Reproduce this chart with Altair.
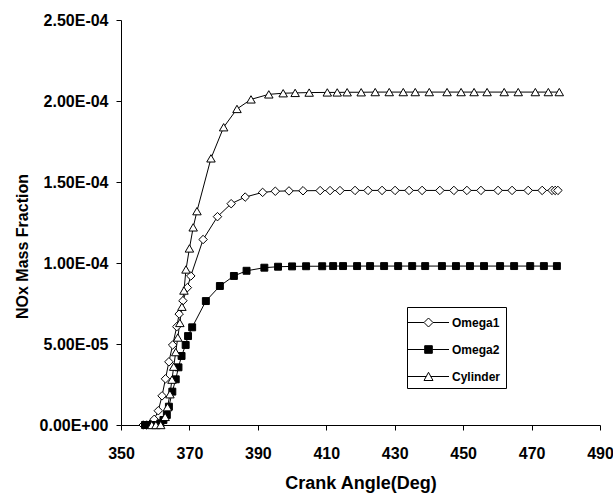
import altair as alt
import pandas as pd

SERIES = ["Omega1", "Omega2", "Cylinder"]

omega1_angle = [356.5, 357.5, 358.5, 359.7, 360.9, 362.0, 363.0, 364.0, 365.1, 366.3,
                367.0, 368.1, 369.4, 370.4, 374.0, 378.2, 382.2, 386.3, 391.4, 395.1,
                399.1, 403.2, 408.2, 411.1, 414.0, 418.4, 422.2, 426.3, 430.1, 434.2,
                438.0, 443.2, 447.3, 451.1, 455.2, 460.2, 464.3, 469.0, 473.1, 476.0,
                476.9, 477.7]
omega1_nox = [0.0, 0.0, 0.05e-5, 0.35e-5, 0.88e-5, 1.80e-5, 2.85e-5, 3.90e-5, 4.94e-5, 6.07e-5,
              6.85e-5, 7.67e-5, 8.48e-5, 9.20e-5, 11.45e-5, 12.86e-5, 13.66e-5, 14.07e-5, 14.36e-5, 14.43e-5,
              14.45e-5, 14.46e-5, 14.47e-5, 14.47e-5, 14.47e-5, 14.48e-5, 14.48e-5, 14.48e-5, 14.48e-5, 14.48e-5,
              14.48e-5, 14.48e-5, 14.48e-5, 14.48e-5, 14.48e-5, 14.48e-5, 14.48e-5, 14.48e-5, 14.48e-5, 14.48e-5,
              14.48e-5, 14.48e-5]

omega2_angle = [357.0, 358.0, 359.3, 360.5, 361.5, 362.4, 363.4, 364.0, 365.0, 366.0,
                366.8, 367.7, 368.9, 369.6, 370.8, 374.8, 378.9, 383.0, 386.7, 391.9,
                395.9, 400.0, 404.1, 408.8, 412.0, 414.9, 419.0, 422.8, 426.9, 431.0,
                435.1, 438.9, 443.8, 447.9, 452.0, 456.1, 460.8, 464.9, 469.6, 473.6,
                477.4]
omega2_nox = [0.0, 0.0, 0.0, 0.0, 0.10e-5, 0.31e-5, 0.62e-5, 1.13e-5, 2.06e-5, 2.82e-5,
              3.56e-5, 4.26e-5, 4.94e-5, 5.49e-5, 6.03e-5, 7.65e-5, 8.58e-5, 9.20e-5, 9.52e-5, 9.71e-5,
              9.77e-5, 9.79e-5, 9.80e-5, 9.80e-5, 9.81e-5, 9.81e-5, 9.81e-5, 9.81e-5, 9.81e-5, 9.81e-5,
              9.81e-5, 9.81e-5, 9.81e-5, 9.81e-5, 9.81e-5, 9.81e-5, 9.81e-5, 9.81e-5, 9.81e-5, 9.81e-5,
              9.81e-5]

cylinder_angle = [359.0, 360.2, 361.6, 362.9, 363.6, 364.3, 364.9, 365.4, 366.0, 366.6,
                  367.2, 367.8, 368.4, 369.0, 370.0, 371.1, 372.2, 376.3, 380.0, 383.9,
                  388.0, 393.2, 397.4, 400.9, 405.0, 410.3, 413.2, 416.1, 420.2, 424.3,
                  428.4, 432.5, 436.0, 440.1, 445.3, 449.4, 453.2, 457.0, 462.0, 466.1,
                  471.1, 474.9, 478.1]
cylinder_nox = [0.0, 0.0, 0.0, 0.5e-5, 1.1e-5, 1.9e-5, 2.8e-5, 3.6e-5, 4.5e-5, 5.4e-5,
                6.3e-5, 7.3e-5, 8.3e-5, 9.6e-5, 10.9e-5, 12.2e-5, 13.2e-5, 16.46e-5, 18.38e-5, 19.51e-5,
                20.10e-5, 20.41e-5, 20.48e-5, 20.50e-5, 20.52e-5, 20.53e-5, 20.53e-5, 20.54e-5, 20.54e-5, 20.55e-5,
                20.55e-5, 20.55e-5, 20.55e-5, 20.55e-5, 20.55e-5, 20.55e-5, 20.55e-5, 20.55e-5, 20.55e-5, 20.55e-5,
                20.55e-5, 20.55e-5, 20.55e-5]

X_TICKS = [350, 370, 390, 410, 430, 450, 470, 490]
Y_TICKS = [0, 5e-5, 1e-4, 1.5e-4, 2e-4, 2.5e-4]
Y_TICK_LABELS = ["0.00E+00", "5.00E-05", "1.00E-04", "1.50E-04", "2.00E-04", "2.50E-04"]

rows = []
for name, xs, ys in [("Omega1", omega1_angle, omega1_nox),
                     ("Omega2", omega2_angle, omega2_nox),
                     ("Cylinder", cylinder_angle, cylinder_nox)]:
    for a, v in zip(xs, ys):
        rows.append({"series": name, "angle": a, "nox": v})
df = pd.DataFrame(rows)

FONT = "Liberation Sans"
label_expr = "[" + ",".join("'" + s + "'" for s in Y_TICK_LABELS) + "][round(datum.value/5e-5)]"

x_enc = alt.X(
    "angle:Q",
    scale=alt.Scale(domain=[350, 490], nice=False, zero=False),
    axis=alt.Axis(values=X_TICKS, title="Crank Angle(Deg)", labelFontSize=16,
                  labelBaseline="alphabetic", labelPadding=28, tickSize=5,
                  titleFontSize=18, titleBaseline="alphabetic", titleY=63,
                  labelFlush=False, labelOverlap=False),
)
y_enc = alt.Y(
    "nox:Q",
    scale=alt.Scale(domain=[0, 2.5e-4], nice=False),
    axis=alt.Axis(values=Y_TICKS, labelExpr=label_expr, title="NOx Mass Fraction",
                  labelFontSize=16, labelPadding=8, tickSize=5, titleFontSize=16,
                  titleBaseline="alphabetic", titleX=-94, titleY=226, labelFlush=False),
)

lines = alt.Chart(df).mark_line(color="black", strokeWidth=1).encode(
    x=x_enc, y=y_enc, detail="series:N"
)

MARKERS = {"Omega1": ("diamond", "white", 72),
           "Omega2": ("square", "black", 48),
           "Cylinder": ("triangle-up", "white", 72)}
point_layers = []
for s in SERIES:
    shp, fcol, sz = MARKERS[s]
    point_layers.append(
        alt.Chart(df).transform_filter(alt.datum.series == s).mark_point(
            shape=shp, filled=True, fill=fcol, stroke="black", strokeWidth=1,
            size=sz, opacity=1
        ).encode(x=x_enc, y=y_enc)
    )

LEGEND_PATHS = [
    "M-1.45,0L0.15,0M1.05,0L2.65,0M0.6,-0.45L1.05,0L0.6,0.45L0.15,0Z",
    "M-1.45,0L0.22,0M0.98,0L2.65,0M0.22,-0.38L0.98,-0.38L0.98,0.38L0.22,0.38Z",
    "M-1.45,0L0.38,0M0.82,0L2.65,0M0.6,-0.42L1.05,0.4L0.15,0.4Z",
]
leg = alt.Legend(title=None, orient="none", legendX=286, legendY=287,
                 symbolSize=400, symbolOpacity=1, symbolStrokeColor="black",
                 symbolStrokeWidth=1, labelOffset=19, rowPadding=10, padding=5,
                 strokeColor="black", fillColor="white", labelFont=FONT,
                 labelFontSize=12, labelFontWeight="bold", labelColor="black",
                 cornerRadius=0)
legend_layer = alt.Chart(df).mark_point(size=0, filled=True, strokeWidth=1,
                                        opacity=1).encode(
    x=x_enc, y=y_enc,
    shape=alt.Shape("series:N", scale=alt.Scale(domain=SERIES, range=LEGEND_PATHS), legend=leg),
    fill=alt.Fill("series:N", scale=alt.Scale(domain=SERIES, range=["white", "black", "white"]), legend=leg),
    stroke=alt.Stroke("series:N", scale=alt.Scale(domain=SERIES, range=["black", "black", "black"]), legend=leg),
)

chart = alt.layer(lines, *point_layers, legend_layer).properties(
    width=479, height=405,
    autosize=alt.AutoSizeParams(type="none"),
    padding={"left": 121, "top": 20, "right": 13, "bottom": 72},
    background="white",
).configure_view(stroke=None).configure_axis(
    grid=False, domainColor="black", tickColor="black", labelColor="black",
    titleColor="black", labelFont=FONT, titleFont=FONT, labelFontWeight="bold",
    titleFontWeight="bold", domainWidth=1, tickWidth=1,
)

chart.save("out.html", embed_options={"renderer": "svg", "actions": False})
